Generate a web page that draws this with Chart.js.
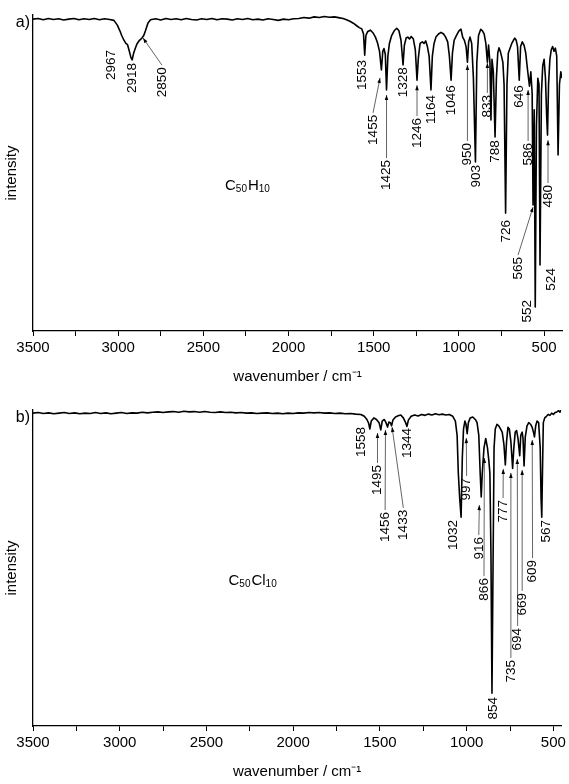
<!DOCTYPE html>
<html>
<head>
<meta charset="utf-8">
<script src="https://cdn.jsdelivr.net/npm/chart.js@4"></script>
<style>
html, body { margin: 0; padding: 0; background: #fff; }
#wrap { position: relative; width: 569px; height: 784px; }
canvas { position: absolute; left: 0; }
</style>
</head>
<body>
<div id="wrap">
  <canvas id="chartA" width="569" height="395" style="top:0"></canvas>
  <canvas id="chartB" width="569" height="389" style="top:395px"></canvas>
</div>
<script>
// spectrum a) C50H10
const wnA = [3500,3470,3440,3410,3380,3350,3320,3290,3260,3230,3200,3170,3140,3110,3080,3050,3025,3005,2990,2980,
  2967,2955,2945,2935,2925,2918,2910,2900,2890,2875,2862,2850,2840,2825,2810,2780,2750,2720,2690,2660,
  2630,2600,2570,2540,2510,2480,2450,2420,2390,2360,2330,2300,2270,2240,2210,2180,2150,2120,2090,2060,
  2030,2000,1970,1940,1910,1880,1850,1820,1790,1760,1730,1700,1680,1660,1640,1620,1600,1585,1570,1560,
  1553,1546,1535,1520,1505,1490,1478,1466,1455,1447,1440,1432,1425,1417,1408,1395,1380,1365,1352,1340,
  1328,1320,1310,1300,1290,1280,1268,1256,1246,1238,1228,1215,1205,1195,1185,1175,1164,1156,1146,1135,
  1120,1105,1090,1078,1066,1056,1046,1038,1028,1015,1000,988,978,968,958,950,943,935,925,915,
  903,895,885,872,862,852,842,833,826,818,812,806,798,788,780,772,765,757,750,742,
  735,726,718,710,700,690,680,672,664,656,646,638,628,618,608,598,586,578,570,565,
  558,552,545,537,530,524,516,508,500,492,485,480,474,466,458,450,442,434,426,418,
  410,402,395];
const trA = [98.7,98.9,98.5,98.9,98.6,98.8,98.4,98.7,98.9,98.5,98.8,98.6,98.9,98.5,98.8,98.6,98.3,96.8,95.0,93.6,
  92.1,91.0,90.6,88.6,86.5,85.8,87.8,89.4,90.8,92.0,92.6,93.5,95.0,97.5,98.5,98.8,98.4,98.9,98.6,98.8,
  98.5,98.9,98.6,98.4,98.8,98.6,98.9,98.5,98.8,98.7,98.4,98.8,98.6,98.9,98.5,98.7,98.4,98.8,98.6,98.3,
  98.7,98.5,98.8,98.9,99.2,99.0,99.4,99.2,99.5,99.3,99.4,99.1,98.9,98.5,98.0,97.4,96.6,96.0,95.6,94.0,
  87.3,93.5,94.8,95.2,94.4,93.0,91.2,88.5,82.6,88.5,89.4,87.5,76.3,87.0,91.0,93.5,95.0,95.8,95.0,92.0,
  84.2,90.5,92.7,93.0,92.4,93.2,92.5,89.0,79.4,86.5,91.0,91.5,91.0,91.8,90.0,87.0,76.3,87.0,91.0,93.0,
  94.0,94.5,94.0,93.0,91.5,87.0,79.4,88.0,92.0,93.5,95.0,95.5,93.0,92.0,90.0,85.1,91.5,93.0,91.0,80.0,
  53.5,85.0,93.5,95.5,95.0,94.0,91.0,85.1,90.5,85.0,66.8,86.0,82.0,61.4,80.0,88.0,89.6,88.5,87.0,85.0,
  78.0,37.3,78.0,88.0,89.5,91.0,92.0,92.7,92.0,90.0,79.4,90.0,91.5,90.5,88.0,83.0,77.5,82.0,75.0,39.9,
  70.0,7.6,65.0,80.0,78.0,20.9,75.0,84.0,86.0,80.0,68.0,62.0,78.0,86.0,89.0,90.0,88.5,89.5,87.0,55.7,
  78.0,82.0,80.0];

// spectrum b) C50Cl10
const wnB = [3500,3470,3440,3410,3380,3350,3320,3290,3260,3230,3200,3170,3140,3110,3080,3050,3020,2990,2960,2930,
  2900,2870,2840,2810,2780,2750,2720,2690,2660,2630,2600,2570,2540,2510,2480,2450,2420,2390,2360,2330,
  2300,2270,2240,2210,2180,2150,2120,2090,2060,2030,2000,1970,1940,1910,1880,1850,1820,1790,1760,1730,
  1700,1670,1640,1610,1590,1575,1565,1558,1550,1535,1520,1505,1495,1487,1475,1465,1456,1448,1440,1433,
  1425,1410,1395,1380,1365,1352,1344,1336,1320,1300,1280,1260,1240,1220,1200,1180,1160,1140,1120,1100,
  1080,1065,1055,1048,1040,1032,1025,1018,1010,1004,997,990,980,965,950,940,930,922,916,910,
  900,890,880,872,866,860,854,848,842,835,825,815,805,795,785,777,770,762,754,745,
  735,728,720,712,704,694,688,680,675,669,662,652,642,632,622,615,609,602,594,585,
  576,571,567,563,558,550,540,530,520,510,500,490,480,470,462,455];
const trB = [99.0,99.2,98.9,99.1,98.8,99.0,99.2,98.9,99.1,98.8,99.0,98.9,99.2,98.9,99.1,98.8,99.0,99.2,98.9,99.1,
  99.0,99.3,99.1,99.3,99.4,99.2,99.4,99.5,99.3,99.6,99.4,99.5,99.3,99.5,99.3,99.2,99.4,99.2,99.3,99.1,
  99.2,99.0,99.1,98.9,99.0,99.1,98.9,99.0,98.8,99.0,98.9,99.1,99.0,99.2,99.1,99.2,99.0,99.1,98.9,99.0,
  98.8,98.9,98.7,98.6,98.0,97.0,95.8,94.0,96.5,97.5,97.0,96.0,93.7,96.5,97.0,96.0,94.6,96.2,96.0,95.0,
  96.8,97.8,98.2,98.4,97.5,96.0,94.8,96.8,98.0,98.4,98.1,98.6,98.3,98.7,98.4,98.8,98.5,98.7,98.4,98.6,
  98.0,96.5,92.0,80.0,72.0,66.1,85.0,94.0,96.5,95.5,92.5,96.0,97.5,97.8,97.0,96.0,92.0,80.0,72.5,80.0,
  88.0,91.0,88.0,84.0,80.0,55.0,10.4,50.0,88.0,94.0,95.5,95.0,94.0,93.0,89.0,82.6,90.0,94.5,94.0,90.0,
  81.5,88.0,93.0,93.5,91.0,85.5,92.0,93.0,91.0,82.3,91.5,95.0,96.0,95.5,94.5,93.0,91.5,95.0,96.5,96.0,
  88.0,72.0,66.1,80.0,96.0,97.5,98.0,98.6,98.3,99.0,98.6,99.2,99.4,99.8,99.3,100.0];

const tickValues = [3500,3250,3000,2750,2500,2250,2000,1750,1500,1250,1000,750,500];

// peak labels: text, label x (cm-1), label top (intensity), arrow target x, arrow target y
const labelsA = [
  ['2967', 3042, 88.9], ['2918', 2919, 84.8], ['2850', 2743, 83.5, 2854, 92.7],
  ['1553', 1569, 85.8], ['1455', 1504, 68.4, 1463, 80.1], ['1425', 1425, 54.1, 1425, 74.7],
  ['1328', 1328, 83.5], ['1246', 1246, 67.4, 1246, 77.8], ['1164', 1162, 74.7],
  ['1046', 1042, 77.8], ['950', 950, 59.5, 950, 84.2], ['903', 901, 52.5],
  ['833', 833, 74.7, 833, 84.8], ['788', 784, 60.4], ['726', 723, 35.1],
  ['646', 647, 77.8], ['586', 594, 59.5, 594, 76.3], ['565', 653, 23.4, 565, 39.2],
  ['552', 600, 9.8], ['524', 459, 19.9], ['480', 477, 46.2, 477, 60.4]
];
const labelsB = [
  ['1558', 1606, 94.6], ['1495', 1514, 82.6, 1514, 92.7], ['1456', 1470, 67.7, 1468, 93.7],
  ['1433', 1365, 68.4, 1430, 94.6], ['1344', 1342, 94.3], ['1032', 1077, 65.2],
  ['997', 1000, 78.5, 1002, 91.1], ['916', 930, 59.8, 927, 69.9], ['866', 900, 46.8, 898, 84.8],
  ['854', 847, 9.2], ['777', 790, 71.5, 789, 81.3], ['735', 745, 20.9, 745, 80.1],
  ['694', 706, 31.0, 708, 84.5], ['669', 680, 42.1, 680, 81.0], ['609', 620, 52.5, 622, 90.5],
  ['567', 541, 65.2]
];

const FONT = '"Liberation Sans", Arial, sans-serif';

function drawArrow(ctx, x0, y0, x1, y1) {
    ctx.beginPath();
    ctx.moveTo(x0, y0);
    ctx.lineTo(x1, y1);
    ctx.stroke();
    const a = Math.atan2(y1 - y0, x1 - x0);
    ctx.beginPath();
    ctx.moveTo(x1, y1);
    ctx.lineTo(x1 - 5 * Math.cos(a) + 1.8 * Math.sin(a), y1 - 5 * Math.sin(a) - 1.8 * Math.cos(a));
    ctx.lineTo(x1 - 5 * Math.cos(a) - 1.8 * Math.sin(a), y1 - 5 * Math.sin(a) + 1.8 * Math.cos(a));
    ctx.closePath();
    ctx.fill();
}

function drawFormula(ctx, parts, x, y) {
    // parts alternate: normal, subscript, normal, subscript
    let cx = x;
    parts.forEach((p, i) => {
        const sub = i % 2 === 1;
        ctx.font = (sub ? '10px ' : '15px ') + FONT;
        ctx.fillText(p, cx, sub ? y + 4 : y);
        cx += ctx.measureText(p).width + (sub ? 1 : 0);
    });
}

const annotations = {
    id: 'annotations',
    afterDatasetsDraw(chart, args, opts) {
        const ctx = chart.ctx;
        const xs = chart.scales.x, ys = chart.scales.y;
        ctx.save();
        ctx.fillStyle = '#000';
        ctx.strokeStyle = '#222';
        ctx.lineWidth = 0.7;
        ctx.font = '13.5px ' + FONT;
        opts.labels.forEach(l => {
            const lx = xs.getPixelForValue(l[1]);
            const ly = ys.getPixelForValue(l[2]);
            ctx.save();
            ctx.translate(lx, ly);
            ctx.rotate(-Math.PI / 2);
            ctx.textAlign = 'right';
            ctx.textBaseline = 'middle';
            ctx.fillText(l[0], 0, 0);
            ctx.restore();
            if (l.length > 3) {
                drawArrow(ctx, lx, ly - 2, xs.getPixelForValue(l[3]), ys.getPixelForValue(l[4]));
            }
        });
        // panel letter
        ctx.font = '16px ' + FONT;
        ctx.textAlign = 'right';
        ctx.textBaseline = 'middle';
        ctx.fillText(opts.letter, chart.chartArea.left - 3, chart.chartArea.top + 8);
        // formula
        ctx.textAlign = 'left';
        ctx.textBaseline = 'middle';
        drawFormula(ctx, opts.formula, xs.getPixelForValue(2373), ys.getPixelForValue(46));
        ctx.restore();
    }
};

function makeChart(id, wn, tr, xmin, padBottom, labels, letter, formula) {
    const ctx = document.getElementById(id).getContext('2d');
    return new Chart(ctx, {
        type: 'line',
        data: {
            datasets: [{
                data: wn.map((w, i) => ({ x: w, y: tr[i] })),
                borderColor: '#000',
                borderWidth: 1.6,
                borderJoinStyle: 'round',
                pointRadius: 0,
                tension: 0,
                fill: false
            }]
        },
        options: {
            responsive: false,
            animation: false,
            events: [],
            layout: { padding: { top: 15, right: 7, bottom: padBottom, left: 0 } },
            plugins: {
                legend: { display: false },
                tooltip: { enabled: false },
                annotations: { labels: labels, letter: letter, formula: formula }
            },
            scales: {
                x: {
                    type: 'linear',
                    reverse: true,
                    min: xmin,
                    max: 3500,
                    afterBuildTicks: s => { s.ticks = tickValues.map(v => ({ value: v })); },
                    afterFit: s => { s.height = 55; },
                    ticks: {
                        autoSkip: false,
                        maxRotation: 0,
                        padding: 3,
                        color: '#000',
                        font: { family: FONT, size: 15 },
                        callback: v => (v % 500 === 0 ? String(v) : '')
                    },
                    grid: { display: true, drawOnChartArea: false, drawTicks: true, tickLength: 5, color: '#000' },
                    border: { display: true, color: '#000', width: 1.3 },
                    title: {
                        display: true,
                        text: 'wavenumber / cm\u207B\u00B9',
                        color: '#000',
                        font: { family: FONT, size: 15 },
                        padding: { top: 0, bottom: 0 }
                    }
                },
                y: {
                    min: 0,
                    max: 100,
                    afterFit: s => { s.width = 33; },
                    ticks: { display: false },
                    grid: { display: false },
                    border: { display: true, color: '#000', width: 1.3 },
                    title: {
                        display: true,
                        text: 'intensity',
                        color: '#000',
                        font: { family: FONT, size: 15 },
                        padding: { top: 3, bottom: 0 }
                    }
                }
            }
        },
        plugins: [annotations]
    });
}

makeChart('chartA', wnA, trA, 395, 9, labelsA, 'a)', ['C', '50', 'H', '10']);
makeChart('chartB', wnB, trB, 455, 3, labelsB, 'b)', ['C', '50', 'Cl', '10']);
</script>
</body>
</html>
